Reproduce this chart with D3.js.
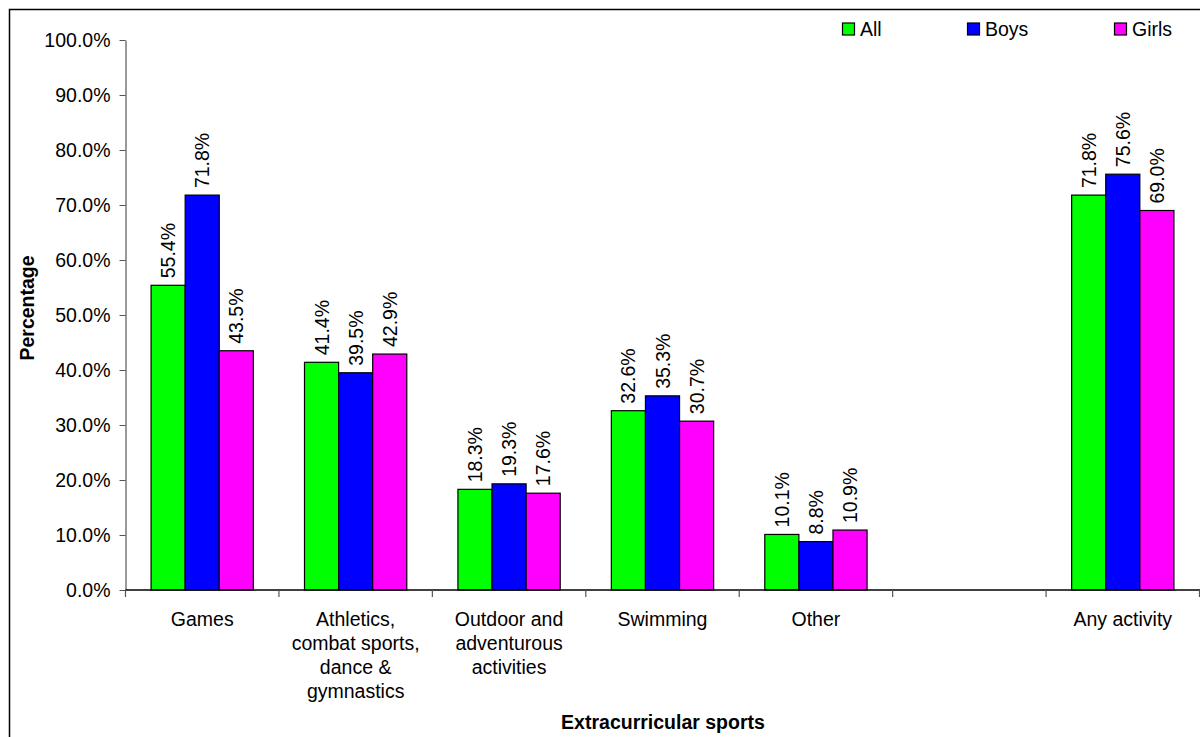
<!DOCTYPE html>
<html>
<head>
<meta charset="utf-8">
<script src="https://cdn.jsdelivr.net/npm/d3@7"></script>
<style>
  html, body { margin: 0; padding: 0; background: #fff; }
  svg { display: block; font-family: "Liberation Sans", Arial, sans-serif; }
</style>
</head>
<body>
<svg id="chart" width="1200" height="737"></svg>
<script>
// Category slots (one empty slot separates "Other" from "Any activity")
const categories = [
  ["Games"],
  ["Athletics,", "combat sports,", "dance &", "gymnastics"],
  ["Outdoor and", "adventurous", "activities"],
  ["Swimming"],
  ["Other"],
  [""],
  ["Any activity"]
];
const seriesNames = ["All", "Boys", "Girls"];
const seriesColors = ["#00ff00", "#0000ff", "#ff00ff"];
const allValues   = [55.4, 41.4, 18.3, 32.6, 10.1, null, 71.8];
const boysValues  = [71.8, 39.5, 19.3, 35.3, 8.8,  null, 75.6];
const girlsValues = [43.5, 42.9, 17.6, 30.7, 10.9, null, 69.0];
const yTicks = [0, 10, 20, 30, 40, 50, 60, 70, 80, 90, 100];

const values = [allValues, boysValues, girlsValues];
const FS = 19.5;

const svg = d3.select("#chart");
const plot = { left: 125.5, right: 1199.5, top: 40, bottom: 590 };

// Chart border
svg.append("rect")
  .attr("x", 9.5).attr("y", 9.5)
  .attr("width", 1200).attr("height", 740)
  .attr("fill", "none").attr("stroke", "#000").attr("stroke-width", 1.5);

const x = d3.scaleBand()
  .domain(d3.range(categories.length))
  .range([plot.left, plot.right])
  .paddingInner(0).paddingOuter(0);

// bars occupy 2/3 of each slot (gap of 1.5 bar widths)
const inner = d3.scaleBand()
  .domain(d3.range(seriesNames.length))
  .range([0, x.bandwidth()])
  .paddingInner(0)
  .paddingOuter(0.75);

const y = d3.scaleLinear().domain([0, 100]).range([plot.bottom, plot.top]);

// Y axis
const yAxis = svg.append("g")
  .attr("transform", `translate(${plot.left},0)`)
  .call(d3.axisLeft(y).tickValues(yTicks).tickSize(6).tickSizeOuter(0)
    .tickFormat(d => d.toFixed(1) + "%"));
yAxis.select(".domain").attr("stroke", "#555").attr("stroke-width", 1.2);
yAxis.selectAll(".tick line").attr("stroke", "#555");
yAxis.selectAll(".tick text")
  .attr("font-size", FS).attr("fill", "#000")
  .attr("font-family", "Liberation Sans, Arial, sans-serif")
  .attr("x", -15);

// Bars
values.forEach((vals, s) => {
  const g = svg.append("g");
  const data = vals.map((v, i) => ({ v, i })).filter(d => d.v !== null);
  g.selectAll("rect")
    .data(data)
    .enter().append("rect")
    .attr("x", d => x(d.i) + inner(s))
    .attr("y", d => y(d.v))
    .attr("width", inner.bandwidth())
    .attr("height", d => y(0) - y(d.v))
    .attr("fill", seriesColors[s])
    .attr("stroke", "#000")
    .attr("stroke-width", 1.2);

  g.selectAll("text")
    .data(data)
    .enter().append("text")
    .attr("transform", d => {
      const cx = x(d.i) + inner(s) + inner.bandwidth() / 2;
      return `translate(${cx},${y(d.v) - 7}) rotate(-90)`;
    })
    .attr("text-anchor", "start")
    .attr("dominant-baseline", "central")
    .attr("font-size", FS)
    .attr("fill", "#000")
    .text(d => d.v.toFixed(1) + "%");
});

// X axis
const xAxis = svg.append("g")
  .attr("transform", `translate(0,${plot.bottom})`);
xAxis.append("line")
  .attr("x1", plot.left).attr("x2", plot.right + 1)
  .attr("y1", 0).attr("y2", 0)
  .attr("stroke", "#000").attr("stroke-width", 1.5);
const bounds = d3.range(categories.length + 1).map(i =>
  i < categories.length ? x(i) : x(categories.length - 1) + x.bandwidth());
xAxis.selectAll("line.tick")
  .data(bounds)
  .enter().append("line")
  .attr("class", "tick")
  .attr("x1", d => d).attr("x2", d => d)
  .attr("y1", 0).attr("y2", 7)
  .attr("stroke", "#555").attr("stroke-width", 1.2);

const catLabels = xAxis.selectAll("text.cat")
  .data(categories)
  .enter().append("text")
  .attr("class", "cat")
  .attr("text-anchor", "middle")
  .attr("font-size", FS)
  .attr("fill", "#000");
catLabels.each(function (lines, i) {
  const t = d3.select(this);
  lines.forEach((ln, k) => {
    t.append("tspan")
      .attr("x", x(i) + x.bandwidth() / 2)
      .attr("y", 36 + k * 24)
      .text(ln);
  });
});

// Axis titles
svg.append("text")
  .attr("transform", `translate(34,308) rotate(-90)`)
  .attr("text-anchor", "middle")
  .attr("font-size", FS).attr("font-weight", "bold")
  .text("Percentage");

svg.append("text")
  .attr("x", 663).attr("y", 729)
  .attr("text-anchor", "middle")
  .attr("font-size", FS).attr("font-weight", "bold")
  .text("Extracurricular sports");

// Legend
const legendX = [842, 967, 1114];
const legend = svg.append("g");
seriesNames.forEach((name, s) => {
  legend.append("rect")
    .attr("x", legendX[s] + 0.5).attr("y", 23)
    .attr("width", 12).attr("height", 12)
    .attr("fill", seriesColors[s])
    .attr("stroke", "#000").attr("stroke-width", 1.2);
  legend.append("text")
    .attr("x", legendX[s] + 18).attr("y", 36)
    .attr("font-size", FS).attr("fill", "#000")
    .text(name);
});
</script>
</body>
</html>
